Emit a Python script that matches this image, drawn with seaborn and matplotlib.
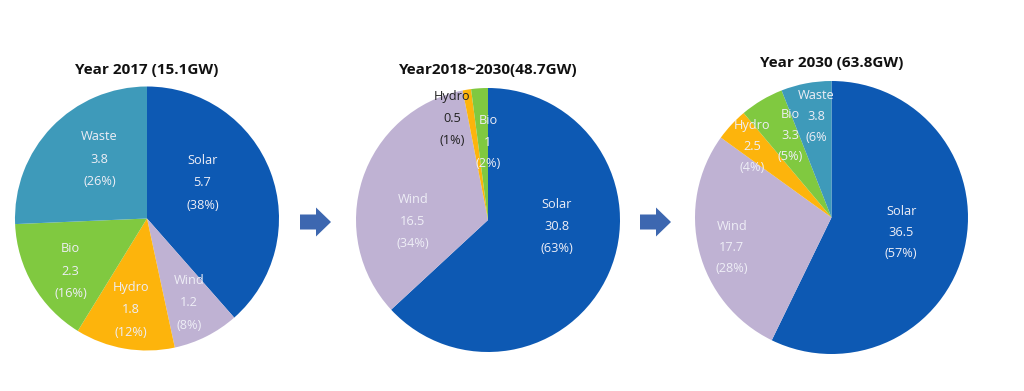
import matplotlib
matplotlib.use("Agg")
import matplotlib.pyplot as plt
import matplotlib.patches as mpatches
import seaborn as sns

# ---- data ----
categories = ["Solar", "Wind", "Hydro", "Bio", "Waste"]
titles = ["Year 2017 (15.1GW)", "Year2018~2030(48.7GW)", "Year 2030 (63.8GW)"]

values_2017 = [5.7, 1.2, 1.8, 2.3, 3.8]
pct_2017 = ["(38%)", "(8%)", "(12%)", "(16%)", "(26%)"]
value_labels_2017 = ["5.7", "1.2", "1.8", "2.3", "3.8"]

values_mid = [30.8, 16.5, 0.5, 1.0]
pct_mid = ["(63%)", "(34%)", "(1%)", "(2%)"]
value_labels_mid = ["30.8", "16.5", "0.5", "1"]

values_2030 = [36.5, 17.7, 2.5, 3.3, 3.8]
pct_2030 = ["(57%)", "(28%)", "(4%)", "(5%)", "(6%"]
value_labels_2030 = ["36.5", "17.7", "2.5", "3.3", "3.8"]

# ---- style ----
sns.set_theme(style="white")
plt.rcParams["font.family"] = ["Open Sans", "DejaVu Sans"]

colors = {"Solar": "#0d59b3", "Wind": "#bfb2d3", "Hydro": "#fdb40c",
          "Bio": "#80c940", "Waste": "#3e9aba"}
light = "#eeeef6"
dark = "#222222"

W, H = 1024, 391
fig = plt.figure(figsize=(W / 100, H / 100), dpi=100)
fig.patch.set_facecolor("white")

# overlay axes in pixel coords for arrows
ov = fig.add_axes([0, 0, 1, 1])
ov.set_xlim(0, W)
ov.set_ylim(H, 0)
ov.axis("off")
for x0 in (300, 640):
    poly = mpatches.Polygon(
        [(x0, 214.5), (x0 + 16, 214.5), (x0 + 16, 207.5), (x0 + 31, 222),
         (x0 + 16, 236.5), (x0 + 16, 229.5), (x0, 229.5)],
        closed=True, facecolor="#3d67b0", edgecolor="none")
    ov.add_patch(poly)

# pie specs: centre (px), radius (px), title y (px), label positions (radius units), line spacing
specs = [
    dict(cx=147, cy=218.5, r=132, ty=70, vals=values_2017, vl=value_labels_2017,
         pct=pct_2017, cats=categories,
         pos=[(0.42, 0.27), (0.32, -0.64), (-0.12, -0.69), (-0.58, -0.40), (-0.36, 0.45)],
         tc=[light, light, light, light, light], ls=0.17),
    dict(cx=488, cy=220, r=132, ty=70, vals=values_mid, vl=value_labels_mid,
         pct=pct_mid, cats=categories[:4],
         pos=[(0.52, -0.05), (-0.57, -0.01), (-0.27, 0.77), (0.0, 0.59)],
         tc=[light, light, dark, light], ls=0.165),
    dict(cx=831.5, cy=217.5, r=136.5, ty=63, vals=values_2030, vl=value_labels_2030,
         pct=pct_2030, cats=categories,
         pos=[(0.51, -0.11), (-0.73, -0.22), (-0.58, 0.52), (-0.30, 0.60), (-0.11, 0.74)],
         tc=[light, light, light, light, light], ls=0.155),
]

for sp, title in zip(specs, titles):
    cx, cy, r = sp["cx"], sp["cy"], sp["r"]
    ax = fig.add_axes([(cx - r) / W, (H - cy - r) / H, 2 * r / W, 2 * r / H])
    ax.pie(sp["vals"], colors=[colors[c] for c in sp["cats"]], startangle=90,
           counterclock=False, radius=1,
           wedgeprops=dict(edgecolor="none", linewidth=0))
    ax.set_xlim(-1, 1)
    ax.set_ylim(-1, 1)
    ax.set_aspect("auto")
    ax.axis("off")
    for (px, py), cat, v, p, col in zip(sp["pos"], sp["cats"], sp["vl"], sp["pct"], sp["tc"]):
        for k, line in enumerate([cat, v, p]):
            ax.text(px, py + (1 - k) * sp["ls"], line, ha="center", va="center",
                    fontsize=9.2, color=col)
    fig.text(cx / W, 1 - sp["ty"] / H, title, ha="center", va="center",
             fontsize=11, fontweight="bold", color="#111111")

fig.savefig("out.png", dpi=100, facecolor="white")
